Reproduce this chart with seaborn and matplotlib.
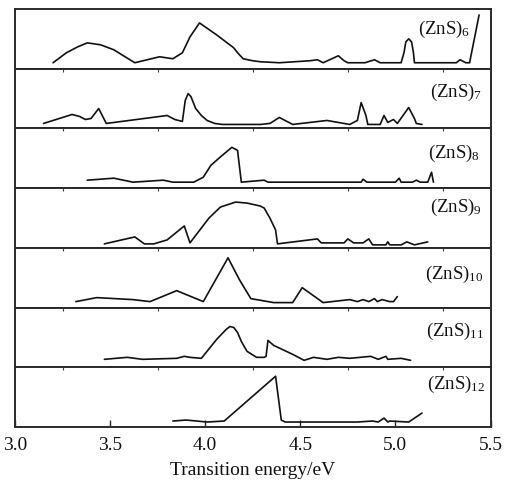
import numpy as np
import pandas as pd
import matplotlib
matplotlib.use("Agg")
import matplotlib.pyplot as plt
import seaborn as sns

# ---- data (intensity in arbitrary units, 0..60 per panel) ----
labels = ["6", "7", "8", "9", "10", "11", "12"]

x6 = [3.20, 3.27, 3.33, 3.38, 3.45, 3.52, 3.57, 3.63, 3.76, 3.83, 3.88, 3.92, 3.97, 4.06, 4.15,
      4.17, 4.20, 4.25, 4.29, 4.39, 4.55, 4.59,
      4.62, 4.70, 4.73, 4.75, 4.84, 4.89, 4.92, 5.03, 5.045, 5.055, 5.07, 5.085, 5.095, 5.10, 5.32,
      5.34, 5.37, 5.39, 5.44]
y6 = [6, 16, 22, 26, 24, 19, 13, 6, 12, 10, 16, 32, 46, 34, 21,
      16, 10, 8, 7, 6, 8, 9,
      6, 13, 8, 6, 6, 9, 6, 6, 16, 27, 30, 27, 16, 6, 6,
      9, 6, 6, 54]

x7 = [3.15, 3.30, 3.34, 3.37, 3.40, 3.44, 3.48, 3.80, 3.84, 3.88, 3.895, 3.91, 3.925, 3.95, 3.98,
      4.01, 4.05, 4.09,
      4.29, 4.34, 4.39, 4.46, 4.64, 4.76, 4.80, 4.82, 4.845, 4.855, 4.92, 4.94, 4.96, 4.99, 5.01,
      5.04, 5.07, 5.10, 5.11, 5.14]
y7 = [5, 14, 12, 9, 10, 20, 5, 13, 9, 7, 28, 35, 32, 20, 13,
      8, 5, 4,
      4, 5, 11, 4, 8, 4, 8, 26, 13, 4, 4, 13, 6, 9, 5,
      13, 21, 10, 5, 4]

x8 = [3.38, 3.52, 3.62, 3.78, 3.83, 3.94, 3.99, 4.03, 4.09, 4.14, 4.17, 4.19, 4.31, 4.33, 4.82,
      4.83, 4.85, 4.90, 4.94, 5.00, 5.02, 5.03, 5.09, 5.11, 5.13, 5.17, 5.19, 5.20]
y8 = [8, 10, 6, 8, 6, 6, 11, 23, 33, 41, 38, 6, 8, 6, 6,
      9, 6, 6, 6, 6, 10, 6, 6, 8, 6, 6, 16, 6]

x9 = [3.47, 3.63, 3.68, 3.73, 3.80, 3.89, 3.92, 4.02, 4.08, 4.16, 4.22, 4.29, 4.31, 4.34, 4.37,
      4.38, 4.59, 4.61, 4.73, 4.75, 4.78, 4.83, 4.86, 4.88, 4.95, 4.96, 4.97, 5.03, 5.06, 5.10, 5.17]
y9 = [4, 11, 4, 4, 8, 22, 5, 30, 41, 46, 45, 42, 40, 30, 18,
      4, 9, 5, 5, 9, 5, 5, 9, 3, 3, 6, 3, 3, 6, 3, 6]

x10 = [3.32, 3.43, 3.62, 3.71, 3.85, 3.99, 4.12, 4.18, 4.24, 4.27, 4.30, 4.36, 4.46, 4.51, 4.62,
       4.76, 4.80, 4.83, 4.86, 4.89, 4.905, 4.93, 4.97, 4.99, 5.01]
y10 = [6, 10, 8, 6, 17, 6, 50, 28, 9, 8, 7, 5, 5, 20, 5,
       8, 6, 8, 6, 9, 6, 8, 6, 6, 11]

x11 = [3.47, 3.59, 3.67, 3.85, 3.89, 3.92, 3.98, 4.06, 4.11, 4.13, 4.15, 4.17, 4.19, 4.22, 4.27,
       4.31, 4.32, 4.33, 4.36, 4.46, 4.52, 4.57, 4.64, 4.70, 4.76, 4.87, 4.91, 4.95, 4.96, 5.03, 5.08]
y11 = [8, 10, 8, 9, 11, 10, 9, 28, 38, 41, 40, 35, 26, 16, 10,
       10, 11, 27, 22, 13, 7, 10, 8, 10, 9, 11, 8, 11, 8, 9, 7]

x12 = [3.83, 3.90, 4.01, 4.10, 4.37, 4.40, 4.42, 4.80, 4.88, 4.91, 4.94, 4.96, 4.97, 5.07, 5.14]
y12 = [6, 7, 5, 6, 51, 7, 5, 5, 6, 5, 9, 5, 6, 5, 14]

xs = [x6, x7, x8, x9, x10, x11, x12]
ys = [y6, y7, y8, y9, y10, y11, y12]

xticks = [3.0, 3.5, 4.0, 4.5, 5.0, 5.5]
xticklabels = ["3.0", "3.5", "4.0", "4.5", "5.0", "5.5"]
minor_ticks = [3.25, 3.5, 3.75, 4.0, 4.25, 4.5, 4.75, 5.0, 5.25]

# label positions (axes fraction)
lab_x = [0.957, 0.982, 0.978, 0.982, 0.985, 0.986, 0.99]
lab_y = [0.65, 0.60, 0.58, 0.68, 0.55, 0.60, 0.71]

sns.set_theme(style="white")
plt.rcParams["font.family"] = ["Liberation Serif", "DejaVu Serif"]
plt.rcParams["mathtext.fontset"] = "custom"
plt.rcParams["mathtext.rm"] = "Liberation Serif"
plt.rcParams["mathtext.it"] = "Liberation Serif:italic"

fig, axes = plt.subplots(7, 1, figsize=(5.07, 4.88), dpi=100, sharex=True)
fig.subplots_adjust(left=15 / 507, right=490.5 / 507, top=1 - 9 / 488, bottom=1 - 427 / 488, hspace=0)

spine_col = "#2a2a2a"
for i, ax in enumerate(axes):
    df = pd.DataFrame({"x": xs[i], "y": ys[i]})
    sns.lineplot(data=df, x="x", y="y", ax=ax, color="#111111", lw=1.2, sort=False, estimator=None)
    ax.set_xlim(3.0, 5.5)
    ax.set_ylim(0, 60)
    ax.set_ylabel("")
    ax.set_xlabel("")
    ax.set_yticks([])
    for s in ax.spines.values():
        s.set_color(spine_col)
        s.set_linewidth(1.4)
        s.set_visible(True)
    ax.text(lab_x[i], lab_y[i], "(ZnS)$_{\\mathrm{" + labels[i] + "}}$", transform=ax.transAxes,
            ha="right", va="center", fontsize=13.5, color="#111111")
    if i > 0:
        ax.tick_params(axis="x", which="minor", top=True, bottom=False, direction="in",
                       length=1.8, width=0.8, color="#444444")
        ax.set_xticks(minor_ticks, minor=True)

axes[-1].set_xticks(xticks)
axes[-1].set_xticklabels(xticklabels)
axes[-1].tick_params(axis="x", which="major", bottom=True, direction="in", length=5, width=1.0,
                     color=spine_col, labelsize=14, pad=7, labelcolor="#111111")
for ax in axes[:-1]:
    ax.tick_params(axis="x", which="major", bottom=False, labelbottom=False)
axes[-1].set_xlabel("Transition energy/eV", fontsize=14, color="#111111", labelpad=6)

fig.savefig("out.png", dpi=100)
